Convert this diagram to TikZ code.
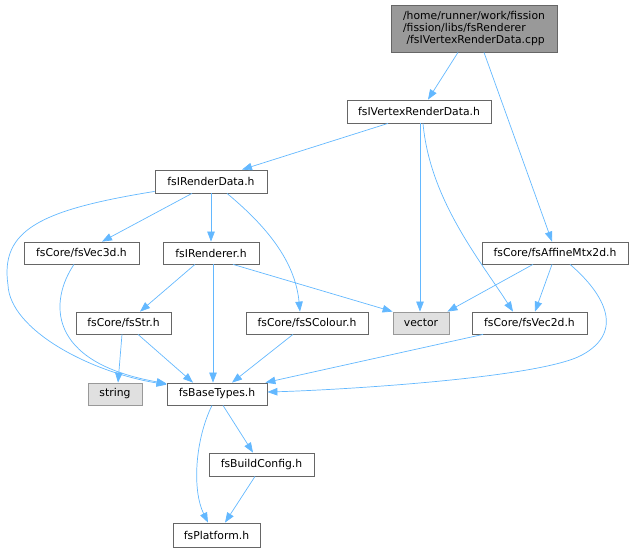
\documentclass[tikz,border=0pt]{standalone}
\usepackage{fontspec}
\setmainfont{DejaVu Sans}
\usetikzlibrary{arrows.meta}
\definecolor{edgec}{HTML}{63B8FF}
\definecolor{bordc}{HTML}{666666}
\definecolor{rootfill}{HTML}{999999}
\definecolor{extfill}{HTML}{E0E0E0}
\definecolor{extbord}{HTML}{999999}
\begin{document}
\begin{tikzpicture}[x=1pt,y=-1pt,
  box/.style={draw=bordc,fill=white,line width=0.8pt,inner sep=0pt,minimum height=23pt,
    font=\fontsize{10.8}{11.8}\selectfont,text=black},
  rootbox/.style={box,fill=rootfill,align=left},
  extbox/.style={box,draw=extbord,fill=extfill},
  dep/.style={draw=edgec,line width=0.7pt,-{Triangle[length=10pt,width=7.5pt]}}]
\useasboundingbox (0,0) rectangle (634,552);
\node[rootbox,minimum width=166pt,minimum height=47pt] (root) at (474,28.5)
  {/home/runner/work/fission\\/fission/libs/fsRenderer\\\ /fsIVertexRenderData.cpp};
\node[box,minimum width=144pt] (vrd) at (419,111.5) {fsIVertexRenderData.h};
\node[box,minimum width=112pt] (rd) at (211,181.5) {fsIRenderData.h};
\node[box,minimum width=115pt,minimum height=22pt] (vec3d) at (81.5,253) {fsCore/fsVec3d.h};
\node[box,minimum width=96pt,minimum height=22pt] (renderer) at (211,253) {fsIRenderer.h};
\node[box,minimum width=146pt,minimum height=22pt] (affine) at (555,253) {fsCore/fsAffineMtx2d.h};
\node[box,minimum width=95pt,minimum height=22pt] (str) at (123.5,323) {fsCore/fsStr.h};
\node[box,minimum width=122pt,minimum height=22pt] (scolour) at (307,323) {fsCore/fsSColour.h};
\node[extbox,minimum width=56pt,minimum height=22pt] (vector) at (421,323) {vector};
\node[box,minimum width=115pt,minimum height=22pt] (vec2d) at (529.5,323) {fsCore/fsVec2d.h};
\node[extbox,minimum width=54pt,minimum height=22pt] (string) at (115,394) {string};
\node[box,minimum width=100pt,minimum height=22pt] (base) at (217,394) {fsBaseTypes.h};
\node[box,minimum width=105pt] (build) at (261.5,464.5) {fsBuildConfig.h};
\node[box,minimum width=87pt,minimum height=24pt] (plat) at (216.5,535) {fsPlatform.h};

\draw[dep] ([xshift=-16pt]root.south) -- ([xshift=9pt]vrd.north);
\draw[dep] ([xshift=10pt]root.south) -- ([xshift=-3pt]affine.north);
\draw[dep] ([xshift=-31pt]vrd.south) -- ([xshift=31pt]rd.north);
\draw[dep] ([xshift=1pt]vrd.south) -- ([xshift=-1pt]vector.north);
\draw[dep] ([xshift=4pt]vrd.south) .. controls (430,200) and (480,260) .. ([xshift=-16.5pt]vec2d.north);
\draw[dep] ([yshift=2pt]rd.south west) .. controls (40,210) and (0,230) .. (8,285)
   .. controls (10,330) and (90,372) .. ([yshift=-2pt]base.north west);
\draw[dep] ([xshift=-19pt]rd.south) -- ([xshift=20.5pt]vec3d.north);
\draw[dep] (rd.south) -- (renderer.north);
\draw[dep] ([xshift=16pt]rd.south) .. controls (265,225) and (295,260) .. ([xshift=-7pt]scolour.north);
\draw[dep] ([xshift=-7.5pt]vec3d.south) .. controls (50,300) and (45,362) .. ([yshift=-1pt]base.north west);
\draw[dep] ([xshift=-16pt]renderer.south) -- ([xshift=16.5pt]str.north);
\draw[dep] ([xshift=2pt]renderer.south) -- ([xshift=-4pt]base.north);
\draw[dep] ([xshift=22pt]renderer.south) -- (vector.north west);
\draw[dep] ([xshift=-22pt]affine.south) -- ([xshift=-2pt]vector.north east);
\draw[dep] ([xshift=-3pt]affine.south) -- ([xshift=5.5pt]vec2d.north);
\draw[dep] ([xshift=15pt]affine.south) .. controls (600,290) and (628,330) .. (582,355)
   .. controls (540,378) and (340,390) .. ([yshift=2pt]base.east);
\draw[dep] ([xshift=-1.5pt]str.south) -- ([xshift=3pt]string.north);
\draw[dep] ([xshift=14.5pt]str.south) -- ([xshift=-24pt]base.north);
\draw[dep] ([xshift=-14pt]scolour.south) -- ([xshift=15pt]base.north);
\draw[dep] ([xshift=-46.5pt]vec2d.south) -- ([xshift=-2pt]base.north east);
\draw[dep] ([xshift=6pt]base.south) -- ([xshift=-8.5pt]build.north);
\draw[dep] ([xshift=-5pt]base.south) .. controls (195,440) and (192,490) .. ([xshift=-8.5pt]plat.north);
\draw[dep] ([xshift=-6.5pt]build.south) -- ([xshift=8.5pt]plat.north);
\end{tikzpicture}
\end{document}
